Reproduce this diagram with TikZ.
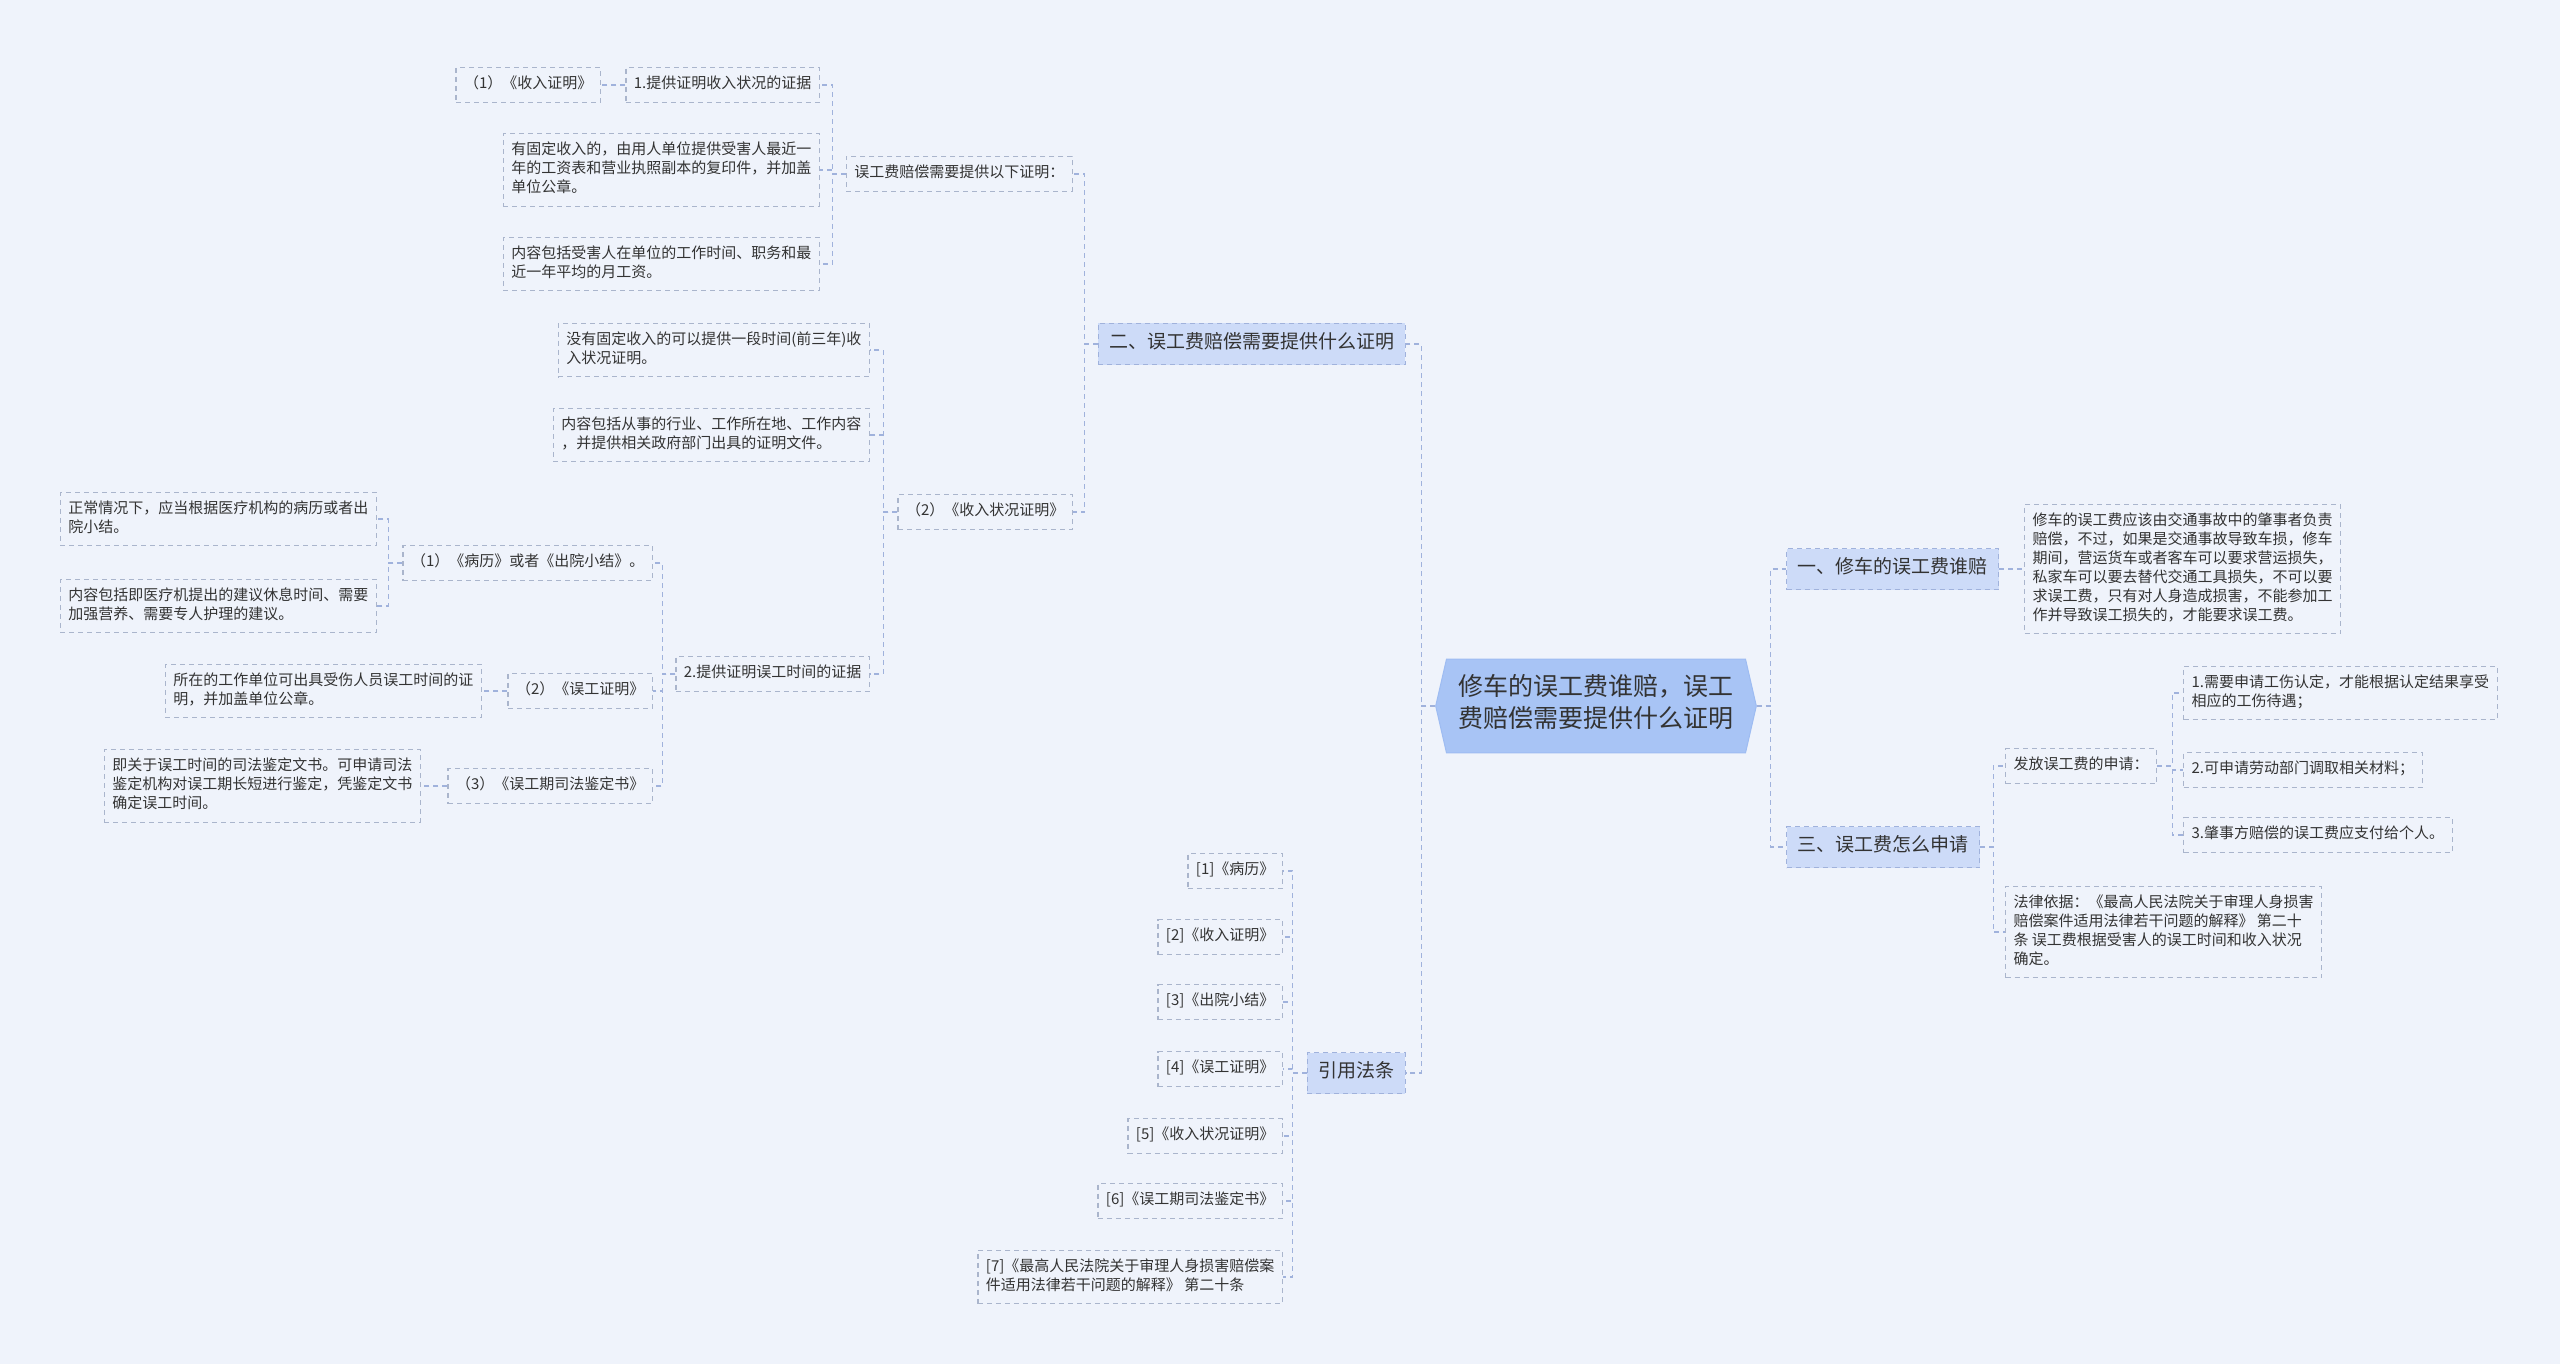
\documentclass[tikz,border=0pt]{standalone}
\usepackage{fontspec}
\setmainfont{Noto Sans CJK SC}
\usepackage{tikz}
\usetikzlibrary{shapes.symbols}
\usepackage{xcolor}
\definecolor{bgblue}{RGB}{239,243,251}
\definecolor{rootblue}{RGB}{168,196,245}
\definecolor{rootedge}{RGB}{158,188,242}
\definecolor{topicblue}{RGB}{205,219,248}
\definecolor{boxedge}{RGB}{170,181,204}
\definecolor{linkblue}{RGB}{160,178,220}
\definecolor{inkgray}{RGB}{51,51,51}

\begin{document}
\begin{tikzpicture}[x=1pt, y=-1pt,
  every node/.style={text=inkgray},
  leaf/.style={draw=boxedge, dash pattern=on 5pt off 4pt, line width=1.2pt, align=left,
    inner xsep=8pt, inner ysep=8pt, font=\fontsize{15}{19}\selectfont,
    execute at begin node=\strut, execute at end node=\strut},
  topic/.style={leaf, draw=linkblue, fill=topicblue, inner xsep=11pt, inner ysep=8.5pt,
    font=\fontsize{19}{24}\selectfont},
  link/.style={draw=linkblue, dash pattern=on 5pt off 4pt, line width=1.2pt}]

\fill[bgblue] (0,0) rectangle (2560,1364);
\useasboundingbox (0,0) rectangle (2560,1364);

\node[signal, signal to=west and east, signal pointer angle=154, fill=rootblue, draw=rootedge,
  line width=1pt, align=left, inner xsep=12pt, inner ysep=15.5pt,
  font=\fontsize{25}{32}\selectfont, execute at begin node=\strut, execute at end node=\strut]
  (root) at (1596,706) {修车的误工费谁赔，误工\\费赔偿需要提供什么证明};

\node[topic, anchor=east] (proof) at (1406,344) {二、误工费赔偿需要提供什么证明};
\node[topic, anchor=west] (who) at (1786,569) {一、修车的误工费谁赔};
\node[topic, anchor=west] (apply) at (1786,847) {三、误工费怎么申请};
\node[topic, anchor=east] (laws) at (1406,1073) {引用法条};

\node[leaf, anchor=east] (needs) at (1073,174) {误工费赔偿需要提供以下证明：};
\node[leaf, anchor=east] (incstat) at (1073,512) {（2）《收入状况证明》};

\node[leaf, anchor=east] (incproof) at (820,85) {1.提供证明收入状况的证据};
\node[leaf, anchor=east] (fixed) at (820,170) {有固定收入的，由用人单位提供受害人最近一\\年的工资表和营业执照副本的复印件，并加盖\\单位公章。};
\node[leaf, anchor=east] (wage) at (820,264) {内容包括受害人在单位的工作时间、职务和最\\近一年平均的月工资。};
\node[leaf, anchor=east] (inccert) at (601,85) {（1）《收入证明》};

\node[leaf, anchor=east] (nofixed) at (870,350) {没有固定收入的可以提供一段时间(前三年)收\\入状况证明。};
\node[leaf, anchor=east] (trade) at (870,435) {内容包括从事的行业、工作所在地、工作内容\\，并提供相关政府部门出具的证明文件。};
\node[leaf, anchor=east] (timeproof) at (870,674) {2.提供证明误工时间的证据};

\node[leaf, anchor=east] (record) at (653,563) {（1）《病历》或者《出院小结》。};
\node[leaf, anchor=east] (lostcert) at (653,691) {（2）《误工证明》};
\node[leaf, anchor=east] (judicial) at (653,786) {（3）《误工期司法鉴定书》};

\node[leaf, anchor=east] (normal) at (377,519) {正常情况下，应当根据医疗机构的病历或者出\\院小结。};
\node[leaf, anchor=east] (advice) at (377,606) {内容包括即医疗机提出的建议休息时间、需要\\加强营养、需要专人护理的建议。};
\node[leaf, anchor=east] (employer) at (482,691) {所在的工作单位可出具受伤人员误工时间的证\\明，并加盖单位公章。};
\node[leaf, anchor=east] (appraise) at (421,786) {即关于误工时间的司法鉴定文书。可申请司法\\鉴定机构对误工期长短进行鉴定，凭鉴定文书\\确定误工时间。};

\node[leaf, anchor=west] (culprit) at (2024,569) {修车的误工费应该由交通事故中的肇事者负责\\赔偿，不过，如果是交通事故导致车损，修车\\期间，营运货车或者客车可以要求营运损失，\\私家车可以要去替代交通工具损失，不可以要\\求误工费，只有对人身造成损害，不能参加工\\作并导致误工损失的，才能要求误工费。};

\node[leaf, anchor=west] (request) at (2005,766) {发放误工费的申请：};
\node[leaf, anchor=west] (basis) at (2005,932) {法律依据：《最高人民法院关于审理人身损害\\赔偿案件适用法律若干问题的解释》 第二十\\条 误工费根据受害人的误工时间和收入状况\\确定。};
\node[leaf, anchor=west] (step1) at (2183,693) {1.需要申请工伤认定，才能根据认定结果享受\\相应的工伤待遇；};
\node[leaf, anchor=west] (step2) at (2183,770) {2.可申请劳动部门调取相关材料；};
\node[leaf, anchor=west] (step3) at (2183,835) {3.肇事方赔偿的误工费应支付给个人。};

\node[leaf, anchor=east] (ref1) at (1283,871) {[1]《病历》};
\node[leaf, anchor=east] (ref2) at (1283,937) {[2]《收入证明》};
\node[leaf, anchor=east] (ref3) at (1283,1002) {[3]《出院小结》};
\node[leaf, anchor=east] (ref4) at (1283,1069) {[4]《误工证明》};
\node[leaf, anchor=east] (ref5) at (1283,1136) {[5]《收入状况证明》};
\node[leaf, anchor=east] (ref6) at (1283,1201) {[6]《误工期司法鉴定书》};
\node[leaf, anchor=east] (ref7) at (1283,1277) {[7]《最高人民法院关于审理人身损害赔偿案\\件适用法律若干问题的解释》 第二十条};

\foreach \c in {who,apply} \draw[link] (root.east) -- ++(14,0) |- (\c.west);
\foreach \c in {proof,laws} \draw[link] (root.west) -- ++(-14,0) |- (\c.east);
\foreach \c in {needs,incstat} \draw[link] (proof.west) -- ++(-13,0) |- (\c.east);
\foreach \c in {incproof,fixed,wage} \draw[link] (needs.west) -- ++(-13,0) |- (\c.east);
\draw[link] (incproof) -- (inccert);
\foreach \c in {nofixed,trade,timeproof} \draw[link] (incstat.west) -- ++(-14,0) |- (\c.east);
\foreach \c in {record,lostcert,judicial} \draw[link] (timeproof.west) -- ++(-13,0) |- (\c.east);
\foreach \c in {normal,advice} \draw[link] (record.west) -- ++(-14,0) |- (\c.east);
\draw[link] (lostcert) -- (employer);
\draw[link] (judicial) -- (appraise);
\draw[link] (who) -- (culprit);
\foreach \c in {request,basis} \draw[link] (apply.east) -- ++(13,0) |- (\c.west);
\foreach \c in {step1,step2,step3} \draw[link] (request.east) -- ++(15,0) |- (\c.west);
\foreach \c in {ref1,ref2,ref3,ref4,ref5,ref6,ref7} \draw[link] (laws.west) -- ++(-14,0) |- (\c.east);
\end{tikzpicture}
\end{document}
